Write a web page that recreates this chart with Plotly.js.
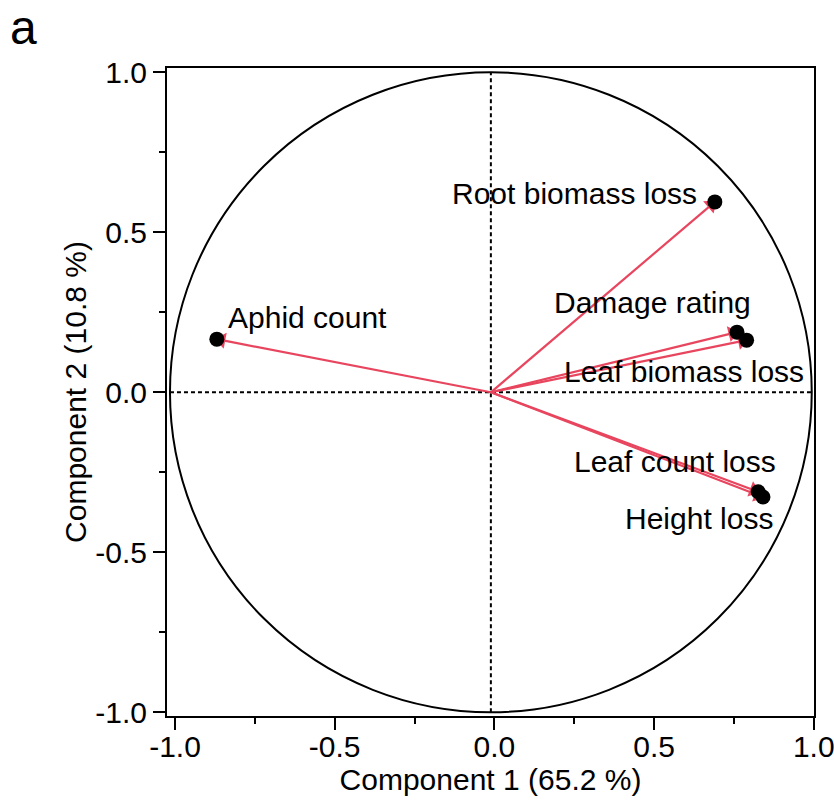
<!DOCTYPE html>
<html>
<head>
<meta charset="utf-8">
<script src="https://cdn.plot.ly/plotly-3.0.1.min.js"></script>
<style>html,body{margin:0;padding:0;background:#fff;}#chart{width:834px;height:803px;}</style>
</head>
<body>
<div id="chart"></div>
<script>
// Variable loadings on the first two components
var variables = ['Aphid count', 'Root biomass loss', 'Damage rating', 'Leaf biomass loss', 'Leaf count loss', 'Height loss'];
var comp1 = [-0.854, 0.698, 0.767, 0.797, 0.833, 0.848];
var comp2 = [0.166, 0.595, 0.188, 0.163, -0.311, -0.327];
var tickValues = [-1.0, -0.5, 0.0, 0.5, 1.0];
var tickLabels = ['-1.0', '-0.5', '0.0', '0.5', '1.0'];
var xTitle = 'Component 1 (65.2 %)';
var yTitle = 'Component 2 (10.8 %)';
var panelLabel = 'a';

// label placement (pixel offsets from each point) – styling only
var labelStyle = [
  {xanchor: 'left',  dx: 10,  dy: 22},
  {xanchor: 'right', dx: -17, dy: 8},
  {xanchor: 'right', dx: 15,  dy: 30},
  {xanchor: 'right', dx: 58,  dy: -31},
  {xanchor: 'right', dx: 19,  dy: 30},
  {xanchor: 'right', dx: 11,  dy: -22}
];

var FONT = 'Liberation Sans, Arial, Helvetica, sans-serif';
var RED = '#e8455e';
var FS = 30;

var traces = [];
// invisible trace so the main (tick) x axis and frame are drawn
traces.push({type: 'scatter', mode: 'markers', x: [0], y: [0], xaxis: 'x', yaxis: 'y',
  marker: {size: 1, opacity: 0}, hoverinfo: 'skip', showlegend: false});
for (var i = 0; i < variables.length; i++) {
  traces.push({
    type: 'scatter', mode: 'lines',
    x: [0, comp1[i]], y: [0, comp2[i]],
    xaxis: 'x2', yaxis: 'y',
    line: {color: RED, width: 2.2},
    hoverinfo: 'skip', showlegend: false
  });
  traces.push({
    type: 'scatter', mode: 'markers',
    x: [0, comp1[i]], y: [0, comp2[i]],
    xaxis: 'x2', yaxis: 'y',
    marker: {symbol: 'triangle-up', size: 14, color: RED, opacity: [0, 1], angleref: 'previous', standoff: 5},
    hoverinfo: 'skip', showlegend: false
  });
}
traces.push({
  type: 'scatter', mode: 'markers',
  x: comp1, y: comp2, xaxis: 'x2', yaxis: 'y',
  marker: {color: '#000', size: 15},
  text: variables, hoverinfo: 'text', showlegend: false
});

var annotations = variables.map(function (name, i) {
  var s = labelStyle[i];
  return {
    x: comp1[i], y: comp2[i], xref: 'x2', yref: 'y',
    text: name, showarrow: false, xanchor: s.xanchor, yanchor: 'middle',
    xshift: s.dx, yshift: s.dy, borderpad: 0,
    font: {family: FONT, size: FS, color: '#000'}
  };
});
annotations.push({
  x: -0.245, y: 1.062, xref: 'paper', yref: 'paper', text: panelLabel,
  showarrow: false, xanchor: 'left', yanchor: 'middle',
  font: {family: FONT, size: 48, color: '#000'}
});

var shapes = [
  {type: 'circle', xref: 'x2', yref: 'y', x0: -1, x1: 1, y0: -1, y1: 1,
   line: {color: '#000', width: 2}, layer: 'below'},
  {type: 'line', xref: 'x2', yref: 'y', x0: -1, x1: 1, y0: 0, y1: 0,
   line: {color: '#000', width: 2, dash: '4px,3px'}, layer: 'below'},
  {type: 'line', xref: 'x2', yref: 'y', x0: 0, x1: 0, y0: -1, y1: 1,
   line: {color: '#000', width: 2, dash: '4px,3px'}, layer: 'below'}
];

var axisCommon = {
  showgrid: false, zeroline: false, showline: true, linecolor: '#000', linewidth: 2,
  mirror: true, ticks: 'outside', ticklen: 12, tickwidth: 2, tickcolor: '#000',
  tickmode: 'array', tickvals: tickValues, ticktext: tickLabels,
  tickfont: {family: FONT, size: FS, color: '#000'},
  ticklabeloverflow: 'allow',
  minor: {ticks: 'outside', ticklen: 6, tickwidth: 2, tickcolor: '#000', tickmode: 'linear', tick0: 0, dtick: 0.25, showgrid: false},
  fixedrange: true
};

var layout = {
  width: 834, height: 803,
  margin: {l: 167, r: 20, t: 68, b: 87},
  paper_bgcolor: '#fff', plot_bgcolor: '#fff',
  font: {family: FONT, color: '#000'},
  xaxis: Object.assign({}, axisCommon, {
    range: [-1.025, 1.0008],
    ticklabelstandoff: -9,
    title: {text: xTitle, font: {family: FONT, size: FS, color: '#000'}, standoff: 4}
  }),
  xaxis2: {overlaying: 'x', anchor: 'y', range: [-1.0093, 1.0070], visible: false, fixedrange: true},
  yaxis: Object.assign({}, axisCommon, {
    range: [-1.0116, 1.0134],
    ticklabelstandoff: 0,
    title: {text: yTitle, font: {family: FONT, size: FS, color: '#000'}, standoff: 0}
  }),
  shapes: shapes,
  annotations: annotations,
  showlegend: false
};

Plotly.newPlot('chart', traces, layout, {displayModeBar: false, staticPlot: true});
</script>
</body>
</html>
